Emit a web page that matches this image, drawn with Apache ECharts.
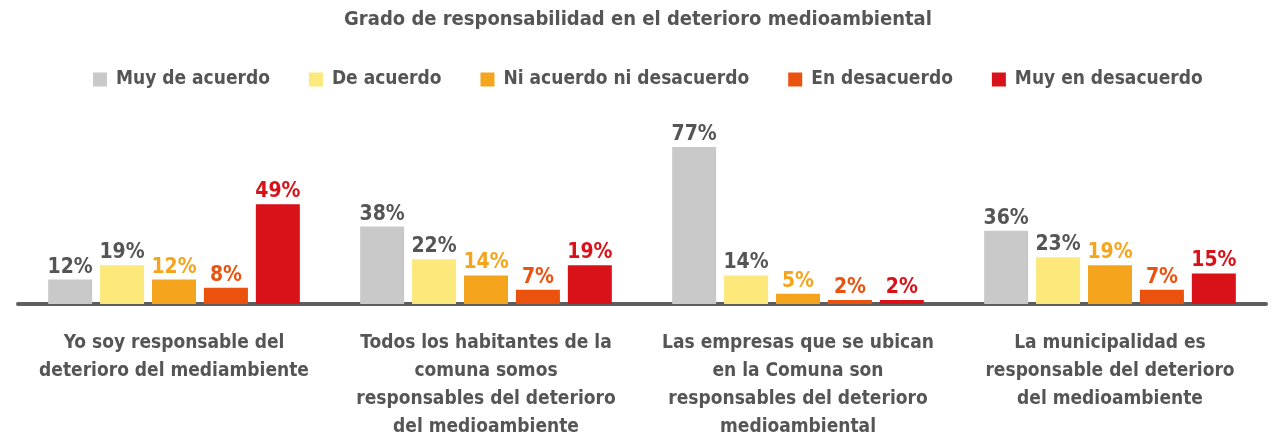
<!DOCTYPE html>
<html>
<head>
<meta charset="utf-8">
<script src="https://cdn.jsdelivr.net/npm/echarts@6/dist/echarts.min.js"></script>
<style>
  html, body { margin: 0; padding: 0; background: #fff; }
  #chart { width: 1276px; height: 441px; }
</style>
</head>
<body>
<div id="chart"></div>
<script>
  // categorias (enunciados)
  var categories = [
    'Yo soy responsable del\ndeterioro del mediambiente',
    'Todos los habitantes de la\ncomuna somos\nresponsables del deterioro\ndel medioambiente',
    'Las empresas que se ubican\nen la Comuna son\nresponsables del deterioro\nmedioambiental',
    'La municipalidad es\nresponsable del deterioro\ndel medioambiente'
  ];
  var seriesNames = ['Muy de acuerdo', 'De acuerdo', 'Ni acuerdo ni desacuerdo', 'En desacuerdo', 'Muy en desacuerdo'];
  var muyDeAcuerdo = [12, 38, 77, 36];
  var deAcuerdo = [19, 22, 14, 23];
  var niAcuerdo = [12, 14, 5, 19];
  var enDesacuerdo = [8, 7, 2, 7];
  var muyEnDesacuerdo = [49, 19, 2, 15];

  var colors = ['#c9c9c9', '#fde87c', '#f5a41d', '#ea520e', '#d9121a'];
  var labelColors = ['#555555', '#555555', '#f5a41d', '#ea520e', '#d9121a'];
  var font = '"DejaVu Sans Condensed", "DejaVu Sans", sans-serif';

  var allData = [muyDeAcuerdo, deAcuerdo, niAcuerdo, enDesacuerdo, muyEnDesacuerdo];

  var chart = echarts.init(document.getElementById('chart'));
  var option = {
    animation: false,
    color: colors,
    title: {
      text: 'Grado de responsabilidad en el deterioro medioambiental',
      left: 'center',
      top: 5,
      textStyle: { fontFamily: font, fontSize: 20, fontWeight: 'bold', color: '#555' }
    },
    legend: {
      data: seriesNames,
      top: 65,
      left: 88,
      itemWidth: 14,
      itemHeight: 14,
      itemGap: 39,
      icon: 'rect',
      textStyle: { fontFamily: font, fontSize: 19, fontWeight: 'bold', color: '#555', padding: [0, 0, 0, 4] }
    },
    grid: {
      left: 18,
      right: 10,
      top: 141,
      bottom: 136
    },
    xAxis: {
      type: 'category',
      data: categories,
      axisLine: { lineStyle: { color: '#5e5e5e', width: 4 } },
      axisTick: { show: false },
      axisLabel: {
        interval: 0,
        margin: 25,
        lineHeight: 28,
        fontFamily: font,
        fontSize: 19,
        fontWeight: 'bold',
        color: '#555'
      }
    },
    yAxis: {
      type: 'value',
      min: 0,
      max: 80,
      show: false
    },
    series: seriesNames.map(function (name, i) {
      return {
        name: name,
        type: 'bar',
        barWidth: 44,
        barGap: '18%',
        barCategoryGap: '19%',
        data: allData[i],
        label: {
          show: true,
          position: 'top',
          distance: 2,
          formatter: '{c}%',
          fontFamily: font,
          fontSize: 21,
          fontWeight: 'bold',
          color: labelColors[i]
        }
      };
    })
  };
  chart.setOption(option);
</script>
</body>
</html>
